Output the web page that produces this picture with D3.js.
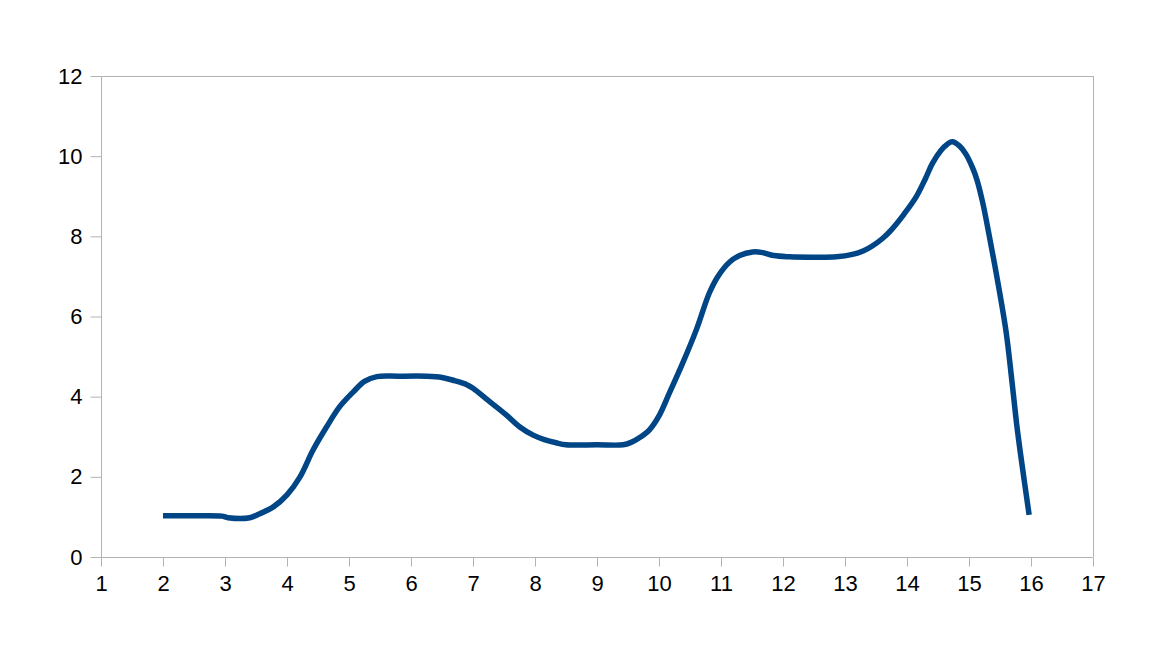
<!DOCTYPE html>
<html>
<head>
<meta charset="utf-8">
<script src="https://cdn.jsdelivr.net/npm/d3@7"></script>
<style>
  html, body { margin: 0; padding: 0; background: #fff; }
  svg { display: block; }
  text { font-family: "Liberation Sans", Arial, sans-serif; }
</style>
</head>
<body>
<svg id="chart" width="1152" height="648"></svg>
<script>
const xValues = [2.0, 2.5, 2.95, 3.05, 3.4, 3.56, 3.78, 4.0, 4.21, 4.42, 4.64, 4.85, 5.07, 5.25, 5.45, 5.8, 6.25, 6.5, 6.7, 6.9, 7.0, 7.25, 7.54, 7.75, 7.97, 8.15, 8.34, 8.5, 9.0, 9.42, 9.55, 9.69, 9.85, 10.0, 10.17, 10.38, 10.6, 10.81, 10.95, 11.14, 11.3, 11.51, 11.65, 11.85, 12.1, 12.5, 12.86, 13.12, 13.3, 13.44, 13.6, 13.74, 13.95, 14.15, 14.3, 14.41, 14.55, 14.65, 14.73, 14.85, 14.95, 15.06, 15.13, 15.22, 15.31, 15.46, 15.6, 15.69, 15.78, 15.89, 15.97];
const yValues = [1.03, 1.03, 1.02, 0.98, 0.98, 1.08, 1.25, 1.55, 2.0, 2.67, 3.25, 3.75, 4.12, 4.38, 4.5, 4.51, 4.51, 4.48, 4.4, 4.3, 4.21, 3.9, 3.54, 3.25, 3.04, 2.93, 2.85, 2.8, 2.8, 2.8, 2.86, 2.98, 3.18, 3.52, 4.1, 4.83, 5.66, 6.58, 7.0, 7.36, 7.52, 7.61, 7.6, 7.52, 7.49, 7.48, 7.49, 7.55, 7.64, 7.76, 7.94, 8.15, 8.55, 8.99, 9.45, 9.82, 10.15, 10.3, 10.36, 10.25, 10.05, 9.7, 9.4, 8.85, 8.15, 6.9, 5.6, 4.42, 3.17, 1.92, 1.05];
const xTicks = [1, 2, 3, 4, 5, 6, 7, 8, 9, 10, 11, 12, 13, 14, 15, 16, 17];
const yTicks = [0, 2, 4, 6, 8, 10, 12];

(function () {
const data = xValues.map((xv, i) => ({ x: xv, y: yValues[i] }));

const svg = d3.select("#chart");
const pLeft = 101, pRight = 1093, pTop = 76, pBottom = 557;
const axisColor = "#b3b3b3";

const x = d3.scaleLinear().domain([1, 17]).range([pLeft, pRight]);
const y = d3.scaleLinear().domain([0, 12]).range([pBottom, pTop]);

svg.append("line").attr("x1", pLeft).attr("x2", pRight).attr("y1", pTop + 0.5).attr("y2", pTop + 0.5)
  .attr("stroke", axisColor).attr("stroke-width", 1);
svg.append("line").attr("x1", pRight + 0.5).attr("x2", pRight + 0.5).attr("y1", pTop).attr("y2", pBottom)
  .attr("stroke", axisColor).attr("stroke-width", 1);

const xAxis = svg.append("g").attr("transform", `translate(0,${pBottom + 0.5})`)
  .call(d3.axisBottom(x).tickValues(xTicks).tickSize(9).tickPadding(9).tickFormat(d3.format("d")));
const yAxis = svg.append("g").attr("transform", `translate(${pLeft + 0.5},0)`)
  .call(d3.axisLeft(y).tickValues(yTicks).tickSize(11).tickPadding(8).tickFormat(d3.format("d")));

[xAxis, yAxis].forEach(g => {
  g.select(".domain").attr("stroke", axisColor).attr("stroke-width", 1);
  g.selectAll(".tick line").attr("stroke", axisColor).attr("stroke-width", 1);
  g.selectAll(".tick text").attr("fill", "#000").style("font-size", "22px")
    .style("font-family", "'Liberation Sans', Arial, sans-serif");
});
xAxis.select(".domain").attr("d", `M${pLeft},0H${pRight}`);
yAxis.select(".domain").attr("d", `M0,${pTop}V${pBottom}`);

const line = d3.line().x(d => x(d.x)).y(d => y(d.y)).curve(d3.curveCatmullRom.alpha(0.5));
svg.append("path").datum(data)
  .attr("d", line)
  .attr("fill", "none")
  .attr("stroke", "#004586")
  .attr("stroke-width", 5.5)
  .attr("stroke-linejoin", "round")
  .attr("stroke-linecap", "butt");
})();
</script>
</body>
</html>
